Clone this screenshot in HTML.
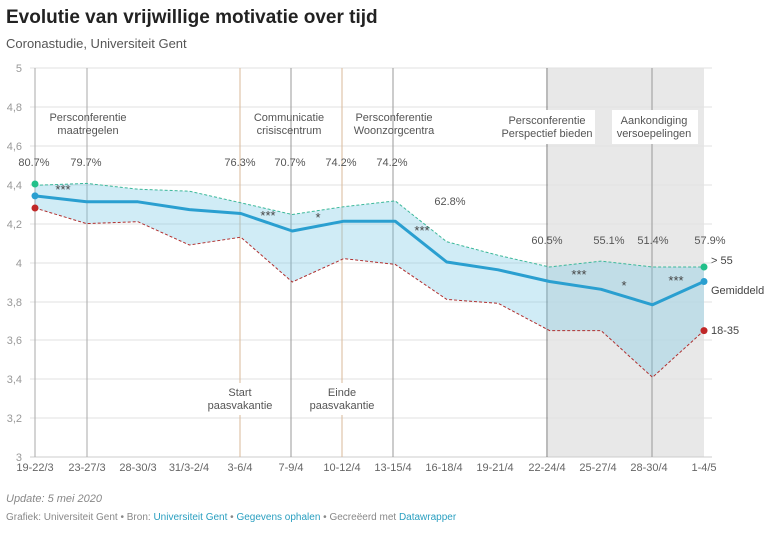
<!DOCTYPE html>
<html><head><meta charset="utf-8"><style>
body{margin:0;background:#fff;font-family:"Liberation Sans",sans-serif;}
</style></head><body>
<svg width="768" height="530" xmlns="http://www.w3.org/2000/svg" font-family="Liberation Sans, sans-serif">
<text x="6" y="23" font-size="19" font-weight="bold" fill="#222">Evolutie van vrijwillige motivatie over tijd</text>
<text x="6" y="48" font-size="13" fill="#555">Coronastudie, Universiteit Gent</text>
<rect x="548" y="68" width="156" height="389" fill="#e8e8e8"/>
<g stroke="#e2e2e2" stroke-width="1">
<line x1="30" x2="712" y1="68" y2="68"/><line x1="30" x2="712" y1="107" y2="107"/><line x1="30" x2="712" y1="146" y2="146"/><line x1="30" x2="712" y1="185" y2="185"/><line x1="30" x2="712" y1="224" y2="224"/><line x1="30" x2="712" y1="263" y2="263"/><line x1="30" x2="712" y1="302" y2="302"/><line x1="30" x2="712" y1="340" y2="340"/><line x1="30" x2="712" y1="379" y2="379"/><line x1="30" x2="712" y1="418" y2="418"/>
</g>
<line x1="30" x2="712" y1="457" y2="457" stroke="#ccc"/>
<g font-size="11" fill="#999" text-anchor="end">
<text x="22" y="72">5</text><text x="22" y="111">4,8</text><text x="22" y="150">4,6</text><text x="22" y="189">4,4</text><text x="22" y="228">4,2</text><text x="22" y="267">4</text><text x="22" y="306">3,8</text><text x="22" y="344">3,6</text><text x="22" y="383">3,4</text><text x="22" y="422">3,2</text><text x="22" y="461">3</text>
</g>
<g stroke-width="1">
<line x1="35" x2="35" y1="68" y2="457" stroke="#aaa"/>
<line x1="87" x2="87" y1="68" y2="457" stroke="#aaa"/>
<line x1="240" x2="240" y1="68" y2="457" stroke="#d9b99a"/>
<line x1="291" x2="291" y1="68" y2="457" stroke="#999"/>
<line x1="342" x2="342" y1="68" y2="457" stroke="#d9b99a"/>
<line x1="393" x2="393" y1="68" y2="457" stroke="#999"/>
<line x1="547" x2="547" y1="68" y2="457" stroke="#777"/>
<line x1="652" x2="652" y1="68" y2="457" stroke="#999"/>
</g>
<polygon fill="rgba(120,200,228,0.35)" points="35,185.3 86.5,183.4 137.9,189.2 189.4,191.2 240.8,202.8 292.3,214.5 343.8,206.7 395.2,200.9 446.7,241.7 498.1,255.3 549.6,267 601.1,261.1 652.5,267 704,267 704,330.6 652.5,377.3 601.1,330.6 549.6,330.6 498.1,303.3 446.7,299.4 395.2,264.4 343.8,258.6 292.3,282 240.8,237.2 189.4,245 137.9,221.7 86.5,223.6 35,208"/>
<polyline fill="none" stroke="#3cb89a" stroke-width="1" stroke-dasharray="3,2" points="35,185.3 86.5,183.4 137.9,189.2 189.4,191.2 240.8,202.8 292.3,214.5 343.8,206.7 395.2,200.9 446.7,241.7 498.1,255.3 549.6,267 601.1,261.1 652.5,267 704,267"/>
<polyline fill="none" stroke="#b03030" stroke-width="1" stroke-dasharray="3,2" points="35,208 86.5,223.6 137.9,221.7 189.4,245 240.8,237.2 292.3,282 343.8,258.6 395.2,264.4 446.7,299.4 498.1,303.3 549.6,330.6 601.1,330.6 652.5,377.3 704,330.6"/>
<polyline fill="none" stroke="#2a9fd0" stroke-width="3" stroke-linejoin="round" points="35,195.9 86.5,201.8 137.9,201.8 189.4,209.6 240.8,213.5 292.3,231 343.8,221.2 395.2,221.2 446.7,262 498.1,269.8 549.6,281.5 601.1,289.3 652.5,304.8 704,281.5"/>
<circle cx="35" cy="184" r="3.5" fill="#22c08a"/><circle cx="35" cy="195.9" r="3.5" fill="#2a9fd0"/><circle cx="35" cy="208" r="3.5" fill="#c02828"/>
<circle cx="704" cy="267" r="3.5" fill="#22c08a"/><circle cx="704" cy="281.5" r="3.5" fill="#2a9fd0"/><circle cx="704" cy="330.6" r="3.5" fill="#c02828"/>
<g font-size="11" fill="#444">
<text x="711" y="264">&gt; 55</text><text x="711" y="294">Gemiddeld</text><text x="711" y="334">18-35</text>
</g>
<g font-size="11" fill="#555" text-anchor="middle">
<text x="34" y="166">80.7%</text><text x="86" y="166">79.7%</text><text x="240" y="166">76.3%</text><text x="290" y="166">70.7%</text><text x="341" y="166">74.2%</text><text x="392" y="166">74.2%</text><text x="450" y="205">62.8%</text><text x="547" y="244">60.5%</text><text x="609" y="244">55.1%</text><text x="653" y="244">51.4%</text><text x="710" y="244">57.9%</text>
</g>
<g font-size="13" fill="#444" text-anchor="middle">
<text x="63" y="194">***</text><text x="268" y="220">***</text><text x="318" y="222">*</text><text x="422" y="235">***</text><text x="579" y="279">***</text><text x="624" y="290">*</text><text x="676" y="285">***</text>
</g>
<rect x="497" y="110" width="98" height="34" fill="#fff"/>
<rect x="612" y="110" width="86" height="34" fill="#fff"/>
<rect x="214" y="383" width="52" height="32" fill="#fff"/>
<rect x="318" y="383" width="54" height="32" fill="#fff"/>
<g font-size="11" fill="#555" text-anchor="middle">
<text x="88" y="121">Persconferentie</text><text x="88" y="134">maatregelen</text>
<text x="289" y="121">Communicatie</text><text x="289" y="134">crisiscentrum</text>
<text x="394" y="121">Persconferentie</text><text x="394" y="134">Woonzorgcentra</text>
<text x="547" y="124">Persconferentie</text><text x="547" y="137">Perspectief bieden</text>
<text x="654" y="124">Aankondiging</text><text x="654" y="137">versoepelingen</text>
<text x="240" y="396">Start</text><text x="240" y="409">paasvakantie</text>
<text x="342" y="396">Einde</text><text x="342" y="409">paasvakantie</text>
</g>
<g font-size="11" fill="#666" text-anchor="middle">
<text x="35" y="471">19-22/3</text><text x="87" y="471">23-27/3</text><text x="138" y="471">28-30/3</text><text x="189" y="471">31/3-2/4</text><text x="240" y="471">3-6/4</text><text x="291" y="471">7-9/4</text><text x="342" y="471">10-12/4</text><text x="393" y="471">13-15/4</text><text x="444" y="471">16-18/4</text><text x="495" y="471">19-21/4</text><text x="547" y="471">22-24/4</text><text x="598" y="471">25-27/4</text><text x="649" y="471">28-30/4</text><text x="704" y="471">1-4/5</text>
</g>
<text x="6" y="502" font-size="11" font-style="italic" fill="#888">Update: 5 mei 2020</text>
<text x="6" y="520" font-size="10" fill="#888">Grafiek: Universiteit Gent • Bron: <tspan fill="#2a9fc0">Universiteit Gent</tspan> • <tspan fill="#2a9fc0">Gegevens ophalen</tspan> • Gecreëerd met <tspan fill="#2a9fc0">Datawrapper</tspan></text>
</svg>
</body></html>
